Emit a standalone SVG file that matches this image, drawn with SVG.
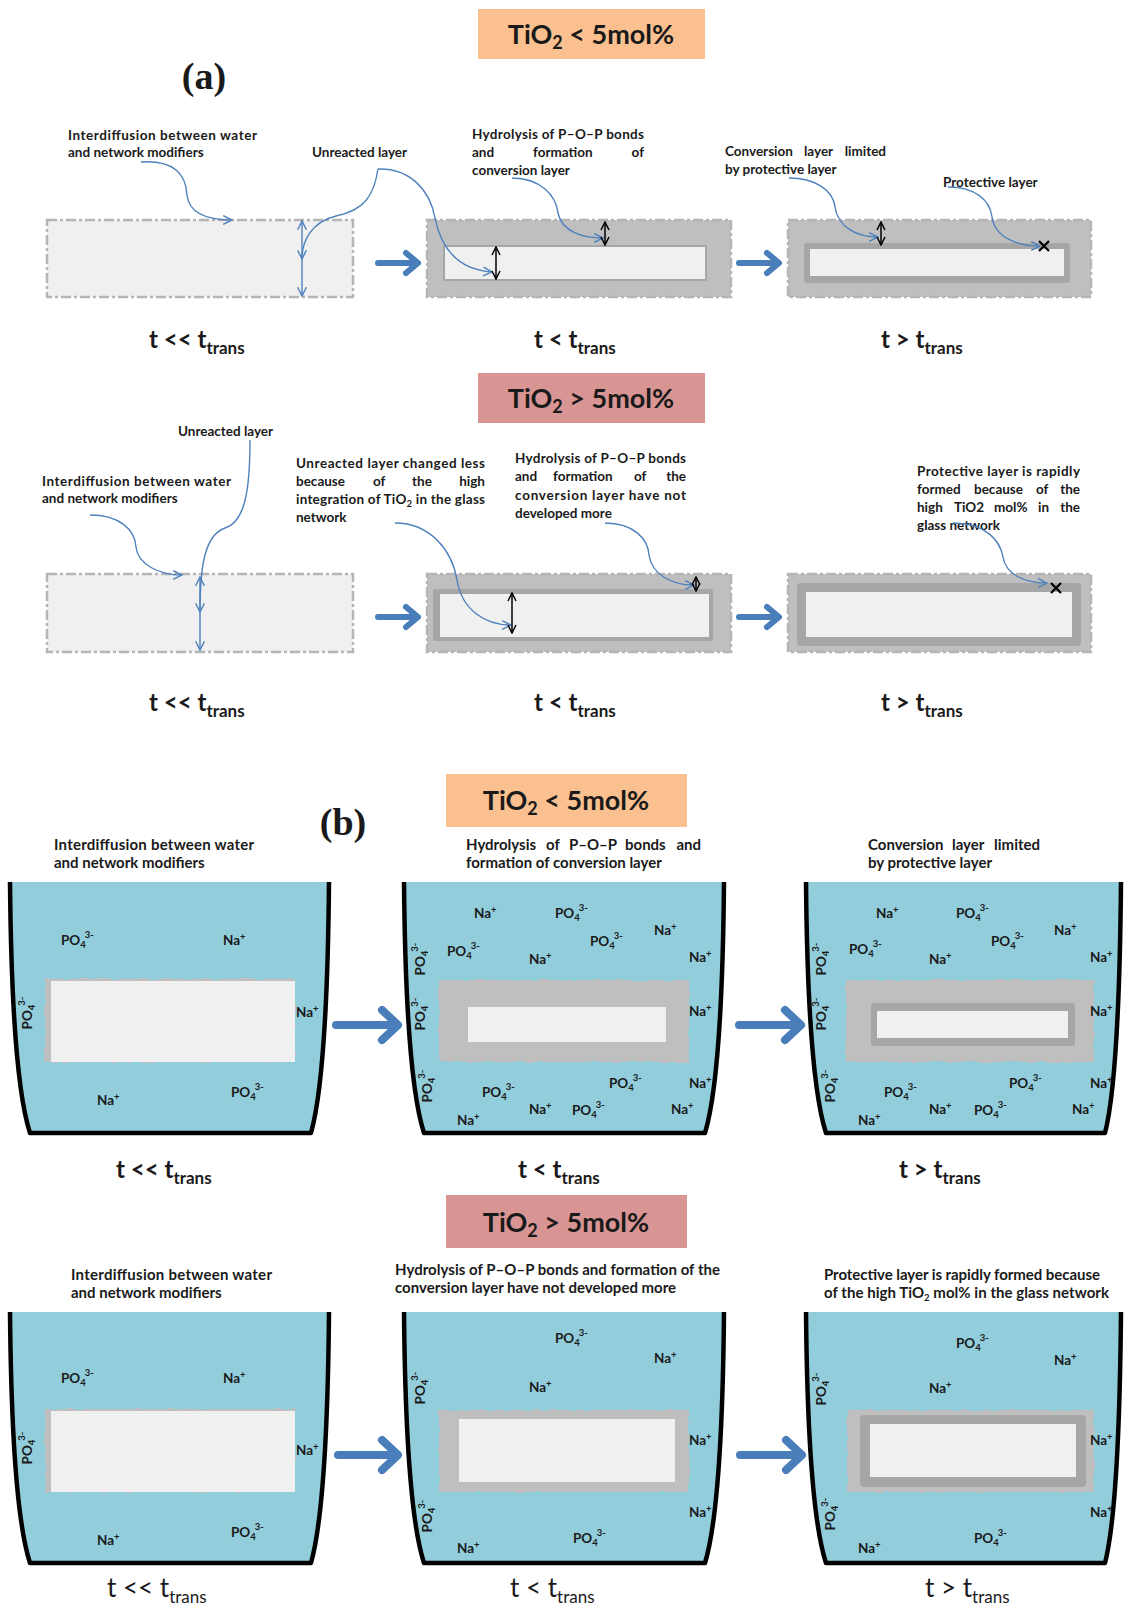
<svg xmlns="http://www.w3.org/2000/svg" width="1124" height="1609" viewBox="0 0 1124 1609">
<style>
text{font-family:Lato,"Liberation Sans",sans-serif;fill:#1a1a1a}
.l{font-weight:bold;font-size:13.5px}
.lb{font-weight:bold;font-size:15px}
.ion{font-weight:bold;font-size:13.5px}
.s{font-size:9.5px}
.t{font-weight:bold;font-size:24px}
.tr{font-size:26px}
.ts{font-size:17px}
.title{font-weight:bold;font-size:27px}
.tsub{font-size:18px}
.pl{font-family:"Liberation Serif",serif;font-weight:bold;font-size:38px}
.conn{fill:none;stroke:#4f81bd;stroke-width:1.4}
.blk{fill:none;stroke:#000;stroke-width:1.5}
.big{fill:none;stroke:#4a7ebb;stroke-width:6;stroke-linecap:round;stroke-linejoin:round}
.big2{fill:none;stroke:#4a7ebb;stroke-width:8;stroke-linecap:round;stroke-linejoin:round}
.dash{stroke:#b5b5b5;stroke-width:2.5;stroke-dasharray:10 3 3 3}
.light{fill:#f0f0f0}
.gray{fill:#bfbfbf}
.dark{fill:#a6a6a6}
.water{fill:#92cddc}
.wall{fill:none;stroke:#000;stroke-width:4.5;stroke-linejoin:round}
.x{stroke:#000;stroke-width:2.2}
</style>
<defs>
<marker id="ab" viewBox="0 0 10 10" refX="9" refY="5" markerWidth="11" markerHeight="11" markerUnits="userSpaceOnUse" orient="auto-start-reverse"><path d="M1,1 L9,5 L1,9" fill="none" stroke="#4f81bd" stroke-width="1.3"/></marker>
<marker id="ak" viewBox="0 0 10 10" refX="9" refY="5" markerWidth="10" markerHeight="10" markerUnits="userSpaceOnUse" orient="auto-start-reverse"><path d="M1,1 L9,5 L1,9" fill="none" stroke="#000" stroke-width="1.5"/></marker>
<filter id="rough" x="-5%" y="-10%" width="110%" height="120%"><feTurbulence type="fractalNoise" baseFrequency="0.12" numOctaves="1" seed="3"/><feDisplacementMap in="SourceGraphic" scale="4" xChannelSelector="R" yChannelSelector="G"/></filter>
</defs>
<rect width="1124" height="1609" fill="#fff"/>

<!-- ===== (a) ===== -->
<g id="title-a1">
<rect x="478" y="9" width="227" height="50" fill="#fac090"/>
<text class="title" x="591" y="44" text-anchor="middle">TiO<tspan class="tsub" dy="5">2</tspan><tspan dy="-5"> &lt; 5mol%</tspan></text>
</g>
<text class="pl" x="204" y="89" text-anchor="middle">(a)</text>

<g id="a1-texts">
<text class="l" x="68" y="140" textLength="189" lengthAdjust="spacing">Interdiffusion between water</text>
<text class="l" x="68" y="157">and network modifiers</text>
<text class="l" x="312" y="157">Unreacted layer</text>
<text class="l" x="472" y="139" textLength="172" lengthAdjust="spacing">Hydrolysis of P–O–P bonds</text>
<text class="l" x="472" y="157">and</text><text class="l" x="533" y="157">formation</text><text class="l" x="644" y="157" text-anchor="end">of</text>
<text class="l" x="472" y="175">conversion layer</text>
<text class="l" x="725" y="156">Conversion</text><text class="l" x="804" y="156">layer</text><text class="l" x="886" y="156" text-anchor="end">limited</text>
<text class="l" x="725" y="174">by protective layer</text>
<text class="l" x="943" y="187">Protective layer</text>
</g>

<g id="node-a1-1">
<rect class="light dash" x="47" y="220" width="306" height="77"/>
</g>
<g id="node-a1-2">
<rect class="gray dash" x="427" y="220" width="304" height="77"/>
<rect class="light" x="444" y="246" width="262" height="34" stroke="#a6a6a6" stroke-width="2"/>
</g>
<g id="node-a1-3">
<rect class="gray dash" x="788" y="220" width="303" height="77"/>
<rect class="dark" x="804" y="243" width="266" height="40" rx="3"/>
<rect class="light" x="810" y="249" width="254" height="27"/>
</g>

<g id="a1-labels">
<text class="t" x="149" y="348">t &lt;&lt; t<tspan class="ts" dy="6">trans</tspan></text>
<text class="t" x="534" y="348">t &lt; t<tspan class="ts" dy="6">trans</tspan></text>
<text class="t" x="881" y="348">t &gt; t<tspan class="ts" dy="6">trans</tspan></text>
</g>

<g id="title-a2">
<rect x="478" y="373" width="227" height="50" fill="#d99594"/>
<text class="title" x="591" y="408" text-anchor="middle">TiO<tspan class="tsub" dy="5">2</tspan><tspan dy="-5"> &gt; 5mol%</tspan></text>
</g>

<g id="a2-texts">
<text class="l" x="178" y="436">Unreacted layer</text>
<text class="l" x="42" y="486" textLength="189" lengthAdjust="spacing">Interdiffusion between water</text>
<text class="l" x="42" y="503">and network modifiers</text>
<text class="l" x="296" y="468" textLength="189" lengthAdjust="spacing">Unreacted layer changed less</text>
<text class="l" x="296" y="486">because</text><text class="l" x="373" y="486">of</text><text class="l" x="412" y="486">the</text><text class="l" x="485" y="486" text-anchor="end">high</text>
<text class="l" x="296" y="504" textLength="189" lengthAdjust="spacing">integration of TiO<tspan class="s" dy="3">2</tspan><tspan dy="-3"> in the glass</tspan></text>
<text class="l" x="296" y="522">network</text>
<text class="l" x="515" y="463" textLength="171" lengthAdjust="spacing">Hydrolysis of P–O–P bonds</text>
<text class="l" x="515" y="481">and</text><text class="l" x="553" y="481">formation</text><text class="l" x="634" y="481">of</text><text class="l" x="686" y="481" text-anchor="end">the</text>
<text class="l" x="515" y="500" textLength="171" lengthAdjust="spacing">conversion layer have not</text>
<text class="l" x="515" y="518">developed more</text>
<text class="l" x="917" y="476" textLength="163" lengthAdjust="spacing">Protective layer is rapidly</text>
<text class="l" x="917" y="494">formed</text><text class="l" x="974" y="494">because</text><text class="l" x="1036" y="494">of</text><text class="l" x="1080" y="494" text-anchor="end">the</text>
<text class="l" x="917" y="512">high</text><text class="l" x="954" y="512">TiO2</text><text class="l" x="994" y="512">mol%</text><text class="l" x="1038" y="512">in</text><text class="l" x="1080" y="512" text-anchor="end">the</text>
<text class="l" x="917" y="530">glass network</text>
</g>

<g id="node-a2-1">
<rect class="light dash" x="47" y="574" width="306" height="78"/>
</g>
<g id="node-a2-2">
<rect class="gray dash" x="427" y="574" width="304" height="78"/>
<rect class="dark" x="433" y="589" width="280" height="52" rx="2"/>
<rect class="light" x="440" y="594" width="269" height="43"/>
</g>
<g id="node-a2-3">
<rect class="gray dash" x="788" y="574" width="303" height="78"/>
<rect class="dark" x="797" y="583" width="284" height="63" rx="4"/>
<rect class="light" x="806" y="592" width="266" height="45"/>
</g>

<g id="a2-labels">
<text class="t" x="149" y="711">t &lt;&lt; t<tspan class="ts" dy="6">trans</tspan></text>
<text class="t" x="534" y="711">t &lt; t<tspan class="ts" dy="6">trans</tspan></text>
<text class="t" x="881" y="711">t &gt; t<tspan class="ts" dy="6">trans</tspan></text>
</g>

<!-- ===== (b) ===== -->
<g id="title-b1">
<rect x="446" y="774" width="241" height="53" fill="#fac090"/>
<text class="title" x="566" y="810" text-anchor="middle">TiO<tspan class="tsub" dy="5">2</tspan><tspan dy="-5"> &lt; 5mol%</tspan></text>
</g>
<text class="pl" x="343" y="835" text-anchor="middle">(b)</text>

<g id="b1-texts">
<text class="lb" x="54" y="850" textLength="200" lengthAdjust="spacing">Interdiffusion between water</text>
<text class="lb" x="54" y="868">and network modifiers</text>
<text class="lb" x="466" y="850">Hydrolysis</text><text class="lb" x="546" y="850">of</text><text class="lb" x="569" y="850">P–O–P</text><text class="lb" x="625" y="850">bonds</text><text class="lb" x="701" y="850" text-anchor="end">and</text>
<text class="lb" x="466" y="868">formation of conversion layer</text>
<text class="lb" x="868" y="850">Conversion</text><text class="lb" x="952" y="850">layer</text><text class="lb" x="1040" y="850" text-anchor="end">limited</text>
<text class="lb" x="868" y="868">by protective layer</text>
</g>

<!-- beaker b1-1 -->
<g id="node-b1-1">
<path class="water" d="M10 882 C11 990 16 1090 30 1133 L311 1133 C323 1090 328 990 329 882 Z"/>
<path class="wall" d="M10 882 C11 990 16 1090 30 1133 L311 1133 C323 1090 328 990 329 882"/>
<rect class="gray" x="45" y="979" width="250" height="83" filter="url(#rough)"/>
<rect class="light" x="51" y="981" width="244" height="81"/>
<text class="ion" x="61" y="945">PO<tspan class="s" dy="3">4</tspan><tspan class="s" dx="-1" dy="-10">3-</tspan></text>
<text class="ion" x="223" y="945">Na<tspan class="s" dy="-5">+</tspan></text>
<text class="ion" x="36" y="1017" text-anchor="middle" transform="rotate(-90 32 1017)">PO<tspan class="s" dy="3">4</tspan><tspan class="s" dx="-1" dy="-10">3-</tspan></text>
<text class="ion" x="296" y="1017">Na<tspan class="s" dy="-5">+</tspan></text>
<text class="ion" x="97" y="1105">Na<tspan class="s" dy="-5">+</tspan></text>
<text class="ion" x="231" y="1097">PO<tspan class="s" dy="3">4</tspan><tspan class="s" dx="-1" dy="-10">3-</tspan></text>
</g>

<!-- beaker b1-2 -->
<g id="node-b1-2">
<path class="water" d="M404 882 C405 990 410 1090 424 1133 L705 1133 C718 1090 723 990 724 882 Z"/>
<rect class="gray" x="439" y="980" width="250" height="82" filter="url(#rough)"/>
<rect class="light" x="468" y="1007" width="198" height="35"/>
<text class="ion" x="474" y="918">Na<tspan class="s" dy="-5">+</tspan></text>
<text class="ion" x="555" y="918">PO<tspan class="s" dy="3">4</tspan><tspan class="s" dx="-1" dy="-10">3-</tspan></text>
<text class="ion" x="447" y="956">PO<tspan class="s" dy="3">4</tspan><tspan class="s" dx="-1" dy="-10">3-</tspan></text>
<text class="ion" x="529" y="964">Na<tspan class="s" dy="-5">+</tspan></text>
<text class="ion" x="590" y="946">PO<tspan class="s" dy="3">4</tspan><tspan class="s" dx="-1" dy="-10">3-</tspan></text>
<text class="ion" x="654" y="935">Na<tspan class="s" dy="-5">+</tspan></text>
<text class="ion" x="689" y="962">Na<tspan class="s" dy="-5">+</tspan></text>
<text class="ion" x="689" y="1016">Na<tspan class="s" dy="-5">+</tspan></text>
<text class="ion" x="609" y="1088">PO<tspan class="s" dy="3">4</tspan><tspan class="s" dx="-1" dy="-10">3-</tspan></text>
<text class="ion" x="689" y="1088">Na<tspan class="s" dy="-5">+</tspan></text>
<text class="ion" x="482" y="1097">PO<tspan class="s" dy="3">4</tspan><tspan class="s" dx="-1" dy="-10">3-</tspan></text>
<text class="ion" x="529" y="1114">Na<tspan class="s" dy="-5">+</tspan></text>
<text class="ion" x="572" y="1115">PO<tspan class="s" dy="3">4</tspan><tspan class="s" dx="-1" dy="-10">3-</tspan></text>
<text class="ion" x="671" y="1114">Na<tspan class="s" dy="-5">+</tspan></text>
<text class="ion" x="457" y="1125">Na<tspan class="s" dy="-5">+</tspan></text>
<text class="ion" x="429" y="963" text-anchor="middle" transform="rotate(-90 425 963)">PO<tspan class="s" dy="3">4</tspan><tspan class="s" dx="-1" dy="-10">3-</tspan></text>
<text class="ion" x="429" y="1018" text-anchor="middle" transform="rotate(-90 425 1018)">PO<tspan class="s" dy="3">4</tspan><tspan class="s" dx="-1" dy="-10">3-</tspan></text>
<text class="ion" x="436" y="1090" text-anchor="middle" transform="rotate(-90 432 1090)">PO<tspan class="s" dy="3">4</tspan><tspan class="s" dx="-1" dy="-10">3-</tspan></text>
<path class="wall" d="M404 882 C405 990 410 1090 424 1133 L705 1133 C718 1090 723 990 724 882"/>
</g>

<!-- beaker b1-3 -->
<g id="node-b1-3">
<path class="water" d="M806 882 C807 990 812 1090 826 1133 L1105 1133 C1116 1090 1120 990 1121 882 Z"/>
<rect class="gray" x="846" y="980" width="248" height="82" filter="url(#rough)"/>
<rect class="dark" x="871" y="1003" width="204" height="43" rx="3"/>
<rect class="light" x="877" y="1011" width="191" height="27"/>
<text class="ion" x="876" y="918">Na<tspan class="s" dy="-5">+</tspan></text>
<text class="ion" x="956" y="918">PO<tspan class="s" dy="3">4</tspan><tspan class="s" dx="-1" dy="-10">3-</tspan></text>
<text class="ion" x="849" y="954">PO<tspan class="s" dy="3">4</tspan><tspan class="s" dx="-1" dy="-10">3-</tspan></text>
<text class="ion" x="929" y="964">Na<tspan class="s" dy="-5">+</tspan></text>
<text class="ion" x="991" y="946">PO<tspan class="s" dy="3">4</tspan><tspan class="s" dx="-1" dy="-10">3-</tspan></text>
<text class="ion" x="1054" y="935">Na<tspan class="s" dy="-5">+</tspan></text>
<text class="ion" x="1090" y="962">Na<tspan class="s" dy="-5">+</tspan></text>
<text class="ion" x="1090" y="1016">Na<tspan class="s" dy="-5">+</tspan></text>
<text class="ion" x="1009" y="1088">PO<tspan class="s" dy="3">4</tspan><tspan class="s" dx="-1" dy="-10">3-</tspan></text>
<text class="ion" x="1090" y="1088">Na<tspan class="s" dy="-5">+</tspan></text>
<text class="ion" x="884" y="1097">PO<tspan class="s" dy="3">4</tspan><tspan class="s" dx="-1" dy="-10">3-</tspan></text>
<text class="ion" x="929" y="1114">Na<tspan class="s" dy="-5">+</tspan></text>
<text class="ion" x="974" y="1115">PO<tspan class="s" dy="3">4</tspan><tspan class="s" dx="-1" dy="-10">3-</tspan></text>
<text class="ion" x="1072" y="1114">Na<tspan class="s" dy="-5">+</tspan></text>
<text class="ion" x="858" y="1125">Na<tspan class="s" dy="-5">+</tspan></text>
<text class="ion" x="830" y="963" text-anchor="middle" transform="rotate(-90 826 963)">PO<tspan class="s" dy="3">4</tspan><tspan class="s" dx="-1" dy="-10">3-</tspan></text>
<text class="ion" x="830" y="1018" text-anchor="middle" transform="rotate(-90 826 1018)">PO<tspan class="s" dy="3">4</tspan><tspan class="s" dx="-1" dy="-10">3-</tspan></text>
<text class="ion" x="839" y="1090" text-anchor="middle" transform="rotate(-90 835 1090)">PO<tspan class="s" dy="3">4</tspan><tspan class="s" dx="-1" dy="-10">3-</tspan></text>
<path class="wall" d="M806 882 C807 990 812 1090 826 1133 L1105 1133 C1116 1090 1120 990 1121 882"/>
</g>

<g id="b1-labels">
<text class="t" x="116" y="1178">t &lt;&lt; t<tspan class="ts" dy="6">trans</tspan></text>
<text class="t" x="518" y="1178">t &lt; t<tspan class="ts" dy="6">trans</tspan></text>
<text class="t" x="899" y="1178">t &gt; t<tspan class="ts" dy="6">trans</tspan></text>
</g>

<g id="title-b2">
<rect x="446" y="1195" width="241" height="53" fill="#d99594"/>
<text class="title" x="566" y="1232" text-anchor="middle">TiO<tspan class="tsub" dy="5">2</tspan><tspan dy="-5"> &gt; 5mol%</tspan></text>
</g>

<g id="b2-texts">
<text class="lb" x="71" y="1280" textLength="201" lengthAdjust="spacing">Interdiffusion between water</text>
<text class="lb" x="71" y="1298">and network modifiers</text>
<text class="lb" x="395" y="1275" textLength="325" lengthAdjust="spacing">Hydrolysis of P–O–P bonds and formation of the</text>
<text class="lb" x="395" y="1293">conversion layer have not developed more</text>
<text class="lb" x="824" y="1280" textLength="276" lengthAdjust="spacing">Protective layer is rapidly formed because</text>
<text class="lb" x="824" y="1298" textLength="285" lengthAdjust="spacing">of  the high TiO<tspan class="s" dy="3">2</tspan><tspan dy="-3"> mol% in the glass  network</tspan></text>
</g>

<!-- beaker b2-1 -->
<g id="node-b2-1">
<path class="water" d="M10 1312 C11 1420 16 1520 30 1563 L311 1563 C323 1520 328 1420 329 1312 Z"/>
<path class="wall" d="M10 1312 C11 1420 16 1520 30 1563 L311 1563 C323 1520 328 1420 329 1312"/>
<rect class="gray" x="45" y="1409" width="250" height="83" filter="url(#rough)"/>
<rect class="light" x="51" y="1411" width="244" height="81"/>
<text class="ion" x="61" y="1383">PO<tspan class="s" dy="3">4</tspan><tspan class="s" dx="-1" dy="-10">3-</tspan></text>
<text class="ion" x="223" y="1383">Na<tspan class="s" dy="-5">+</tspan></text>
<text class="ion" x="36" y="1452" text-anchor="middle" transform="rotate(-90 32 1452)">PO<tspan class="s" dy="3">4</tspan><tspan class="s" dx="-1" dy="-10">3-</tspan></text>
<text class="ion" x="296" y="1455">Na<tspan class="s" dy="-5">+</tspan></text>
<text class="ion" x="97" y="1545">Na<tspan class="s" dy="-5">+</tspan></text>
<text class="ion" x="231" y="1537">PO<tspan class="s" dy="3">4</tspan><tspan class="s" dx="-1" dy="-10">3-</tspan></text>
</g>

<!-- beaker b2-2 -->
<g id="node-b2-2">
<path class="water" d="M404 1312 C405 1420 410 1520 424 1563 L705 1563 C718 1520 723 1420 724 1312 Z"/>
<rect class="gray" x="439" y="1410" width="250" height="82" filter="url(#rough)"/>
<rect class="light" x="459" y="1419" width="216" height="63"/>
<text class="ion" x="555" y="1343">PO<tspan class="s" dy="3">4</tspan><tspan class="s" dx="-1" dy="-10">3-</tspan></text>
<text class="ion" x="654" y="1363">Na<tspan class="s" dy="-5">+</tspan></text>
<text class="ion" x="529" y="1392">Na<tspan class="s" dy="-5">+</tspan></text>
<text class="ion" x="689" y="1445">Na<tspan class="s" dy="-5">+</tspan></text>
<text class="ion" x="689" y="1517">Na<tspan class="s" dy="-5">+</tspan></text>
<text class="ion" x="573" y="1543">PO<tspan class="s" dy="3">4</tspan><tspan class="s" dx="-1" dy="-10">3-</tspan></text>
<text class="ion" x="457" y="1553">Na<tspan class="s" dy="-5">+</tspan></text>
<text class="ion" x="429" y="1392" text-anchor="middle" transform="rotate(-90 425 1392)">PO<tspan class="s" dy="3">4</tspan><tspan class="s" dx="-1" dy="-10">3-</tspan></text>
<text class="ion" x="436" y="1520" text-anchor="middle" transform="rotate(-90 432 1520)">PO<tspan class="s" dy="3">4</tspan><tspan class="s" dx="-1" dy="-10">3-</tspan></text>
<path class="wall" d="M404 1312 C405 1420 410 1520 424 1563 L705 1563 C718 1520 723 1420 724 1312"/>
</g>

<!-- beaker b2-3 -->
<g id="node-b2-3">
<path class="water" d="M806 1312 C807 1420 812 1520 826 1563 L1105 1563 C1116 1520 1120 1420 1121 1312 Z"/>
<rect class="gray" x="847" y="1410" width="247" height="82" filter="url(#rough)"/>
<rect class="dark" x="860" y="1415" width="226" height="72" rx="4"/>
<rect class="light" x="870" y="1424" width="206" height="53"/>
<text class="ion" x="956" y="1348">PO<tspan class="s" dy="3">4</tspan><tspan class="s" dx="-1" dy="-10">3-</tspan></text>
<text class="ion" x="1054" y="1365">Na<tspan class="s" dy="-5">+</tspan></text>
<text class="ion" x="929" y="1393">Na<tspan class="s" dy="-5">+</tspan></text>
<text class="ion" x="1090" y="1445">Na<tspan class="s" dy="-5">+</tspan></text>
<text class="ion" x="1090" y="1517">Na<tspan class="s" dy="-5">+</tspan></text>
<text class="ion" x="974" y="1543">PO<tspan class="s" dy="3">4</tspan><tspan class="s" dx="-1" dy="-10">3-</tspan></text>
<text class="ion" x="858" y="1553">Na<tspan class="s" dy="-5">+</tspan></text>
<text class="ion" x="830" y="1393" text-anchor="middle" transform="rotate(-90 826 1393)">PO<tspan class="s" dy="3">4</tspan><tspan class="s" dx="-1" dy="-10">3-</tspan></text>
<text class="ion" x="839" y="1518" text-anchor="middle" transform="rotate(-90 835 1518)">PO<tspan class="s" dy="3">4</tspan><tspan class="s" dx="-1" dy="-10">3-</tspan></text>
<path class="wall" d="M806 1312 C807 1420 812 1520 826 1563 L1105 1563 C1116 1520 1120 1420 1121 1312"/>
</g>

<g id="b2-labels">
<text class="tr" x="107" y="1597">t &lt;&lt; t<tspan class="ts" dy="6">trans</tspan></text>
<text class="tr" x="510" y="1597">t &lt; t<tspan class="ts" dy="6">trans</tspan></text>
<text class="tr" x="925" y="1597">t &gt; t<tspan class="ts" dy="6">trans</tspan></text>
</g>

<!-- ===== connectors ===== -->
<g id="connectors">
<path class="big" d="M378 263 H417 M406 253 L418 263 L406 273"/>
<path class="big" d="M739 263 H778 M767 253 L779 263 L767 273"/>
<path class="big" d="M378 617 H417 M406 607 L418 617 L406 627"/>
<path class="big" d="M739 617 H778 M767 607 L779 617 L767 627"/>
<path class="big2" d="M336 1025 H396 M382 1010 L398 1025 L382 1040"/>
<path class="big2" d="M739 1025 H799 M785 1010 L801 1025 L785 1040"/>
<path class="big2" d="M338 1455 H396 M382 1440 L398 1455 L382 1470"/>
<path class="big2" d="M740 1455 H800 M786 1440 L802 1455 L786 1470"/>

<path class="conn" d="M141 162 C175 160 186 175 187 195 C189 212 205 220 232 220" marker-end="url(#ab)"/>
<path class="conn" d="M378 169 C374 195 365 210 336 216 C312 222 302 240 302 259" marker-end="url(#ab)"/>
<path class="conn" d="M378 169 C410 168 430 190 435 218 C442 252 462 270 492 272" marker-end="url(#ab)"/>
<line class="conn" x1="302" y1="221" x2="302" y2="296" marker-start="url(#ab)" marker-end="url(#ab)"/>
<line class="blk" x1="496" y1="247" x2="496" y2="279" marker-start="url(#ak)" marker-end="url(#ak)"/>
<path class="conn" d="M512 178 C540 178 556 195 558 213 C562 232 583 238 603 238" marker-end="url(#ab)"/>
<line class="blk" x1="605" y1="222" x2="605" y2="245" marker-start="url(#ak)" marker-end="url(#ak)"/>
<path class="conn" d="M789 178 C815 178 833 190 835 207 C838 228 858 237 878 237" marker-end="url(#ab)"/>
<line class="blk" x1="881" y1="222" x2="881" y2="245" marker-start="url(#ak)" marker-end="url(#ak)"/>
<path class="conn" d="M948 187 C975 187 990 200 992 217 C995 238 1018 246 1040 246" marker-end="url(#ab)"/>
<path class="x" d="M1039 241 L1049 251 M1049 241 L1039 251"/>

<path class="conn" d="M90 515 C120 515 135 530 136 547 C138 565 160 575 182 575" marker-end="url(#ab)"/>
<path class="conn" d="M250 440 C250 490 245 522 225 528 C205 535 200 565 200 612" marker-end="url(#ab)"/>
<line class="conn" x1="200" y1="577" x2="200" y2="650" marker-start="url(#ab)" marker-end="url(#ab)"/>
<path class="conn" d="M395 523 C430 523 452 550 457 580 C462 610 485 625 511 625" marker-end="url(#ab)"/>
<line class="blk" x1="512" y1="593" x2="512" y2="633" marker-start="url(#ak)" marker-end="url(#ak)"/>
<path class="conn" d="M605 523 C635 523 648 540 649 555 C652 575 672 585 694 585" marker-end="url(#ab)"/>
<line class="blk" x1="696" y1="577" x2="696" y2="591" marker-start="url(#ak)" marker-end="url(#ak)"/>
<path class="conn" d="M953 523 C985 523 1000 540 1003 557 C1006 575 1025 583 1047 583" marker-end="url(#ab)"/>
<path class="x" d="M1051 583 L1061 593 M1061 583 L1051 593"/>
</g>
</svg>
